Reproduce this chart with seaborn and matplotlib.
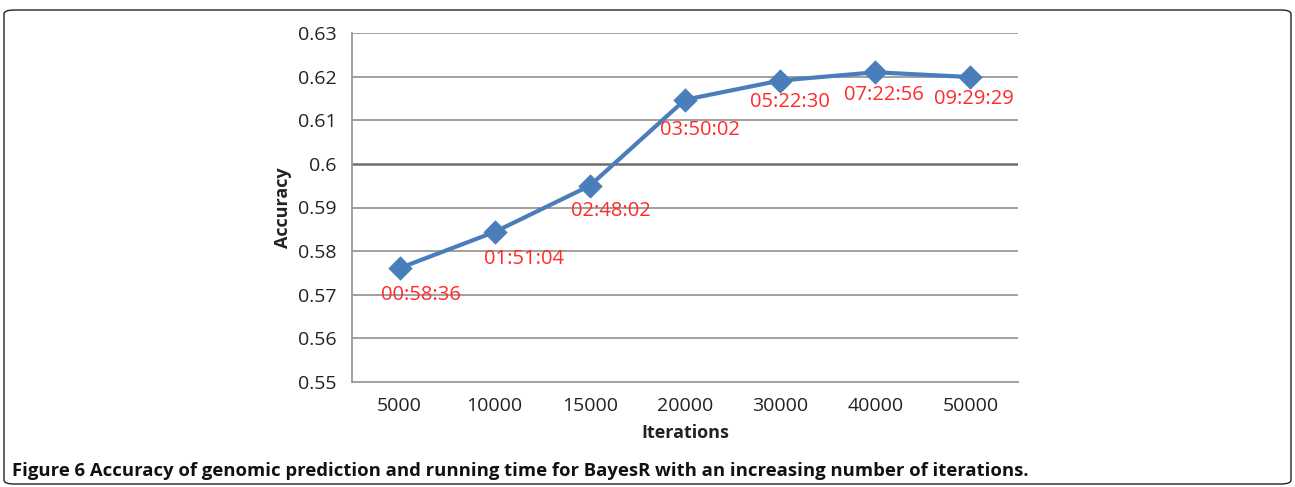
import matplotlib
matplotlib.use("Agg")
import matplotlib.pyplot as plt
from matplotlib.patches import FancyBboxPatch
import seaborn as sns
import pandas as pd
import numpy as np

iterations = ["5000", "10000", "15000", "20000", "30000", "40000", "50000"]
accuracy = [0.5761, 0.5844, 0.5950, 0.6147, 0.6191, 0.6210, 0.6199]
run_times = ["00:58:36", "01:51:04", "02:48:02", "03:50:02", "05:22:30", "07:22:56", "09:29:29"]
y_ticks = [0.55, 0.56, 0.57, 0.58, 0.59, 0.60, 0.61, 0.62, 0.63]
y_tick_labels = ["0.55", "0.56", "0.57", "0.58", "0.59", "0.6", "0.61", "0.62", "0.63"]
caption = "Figure 6 Accuracy of genomic prediction and running time for BayesR with an increasing number of iterations."

sns.set_theme(style="white")
plt.rcParams['font.family'] = ['Open Sans', 'DejaVu Sans']

df = pd.DataFrame({"Iterations": iterations, "Accuracy": accuracy})

fig = plt.figure(figsize=(12.95, 4.87), dpi=100)
ax = fig.add_axes([352/1295, 1 - 382/487, 666/1295, 349/487])

line_color = "#4a7ebb"
sns.pointplot(data=df, x="Iterations", y="Accuracy", order=iterations, ax=ax,
              color=line_color, markers="D", linestyles="-", errorbar=None,
              markersize=10, linewidth=3.0)

ax.set_xlim(-0.5, len(iterations) - 0.5)
ax.set_ylim(0.55, 0.63)
ax.set_yticks(y_ticks)
ax.set_yticklabels(y_tick_labels)

# gridlines
for yt in y_ticks[1:]:
    if abs(yt - 0.60) < 1e-9:
        ax.axhline(yt, color="#6e6e6e", lw=1.8, zorder=0)
    else:
        ax.axhline(yt, color="#999999", lw=1.3, zorder=0)

for s in ["top", "right"]:
    ax.spines[s].set_visible(False)
for s in ["left", "bottom"]:
    ax.spines[s].set_color("#999999")
    ax.spines[s].set_linewidth(1.3)

ax.set_xticks(np.arange(len(iterations)))
ax.set_xticklabels(iterations)
ax.set_xticks(np.arange(-0.5, len(iterations) + 0.5, 1), minor=True)
ax.tick_params(axis="x", which="major", length=0, labelsize=14, pad=11, colors="#222222")
ax.tick_params(axis="x", which="minor", length=6, width=1.3, color="#999999", direction="out")
ax.tick_params(axis="y", which="major", length=6, width=1.3, color="#999999", direction="out",
               labelsize=14, pad=5, labelcolor="#222222")
ax.tick_params(axis="x", labelcolor="#222222")

ax.set_xlabel("Iterations", fontsize=13, fontweight="bold", labelpad=6, color="#222222")
ax.set_ylabel("Accuracy", fontsize=13, fontweight="bold", labelpad=4, color="#222222")

offsets = [(21, -27), (29, -27), (21, -25), (15, -30), (10, -21), (9, -23), (3, -22)]
for i, (t, v) in enumerate(zip(run_times, accuracy)):
    dx, dy = offsets[i]
    ax.annotate(t, (i, v), xytext=(dx, dy), textcoords="offset pixels",
                ha="center", va="center", color="#ff2a2a", fontsize=14.5)

# outer rounded frame
frame = FancyBboxPatch((4/1295, 3/487), 1287/1295, 474/487,
                       boxstyle="round,pad=0,rounding_size=0.008",
                       transform=fig.transFigure, fill=False, edgecolor="#222222",
                       linewidth=1.0)
fig.patches.append(frame)

fig.text(12/1295, 1 - 471/487, caption, fontsize=13.3, fontweight="bold",
         ha="left", va="center", color="#111111",
         family=['Liberation Sans Narrow', 'Open Sans', 'DejaVu Sans'])

fig.savefig("out.png", dpi=100)
